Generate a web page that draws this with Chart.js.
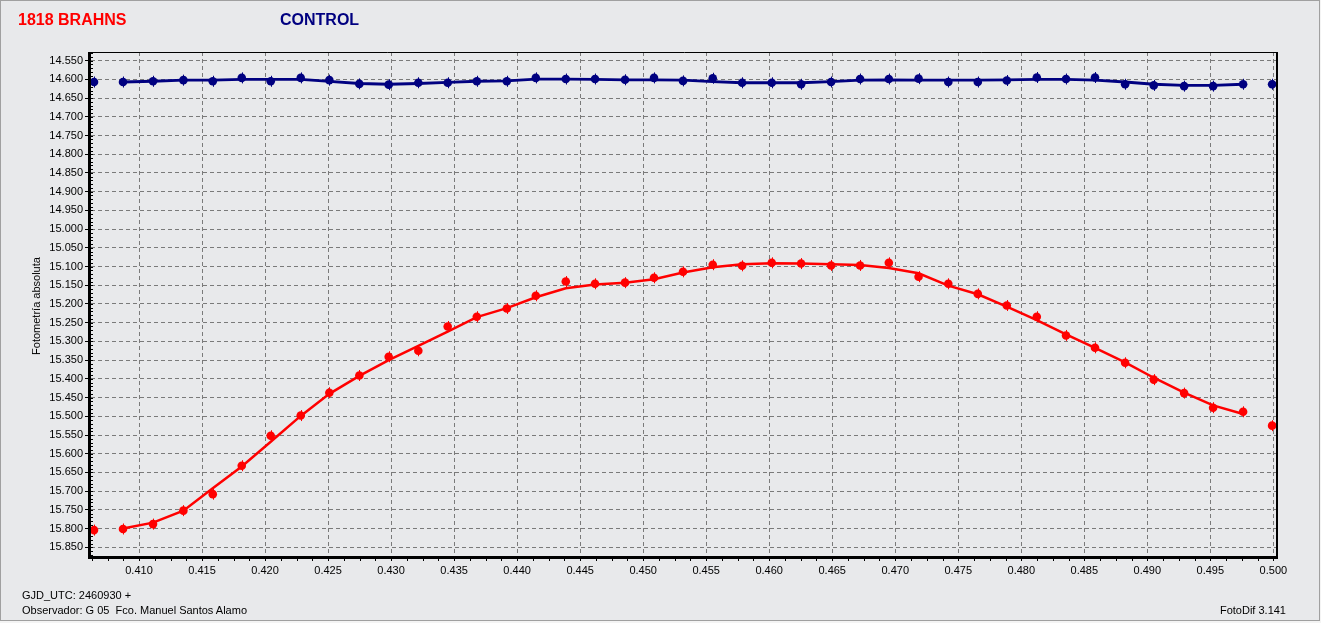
<!DOCTYPE html>
<html>
<head>
<meta charset="utf-8">
<script src="https://cdn.jsdelivr.net/npm/chart.js@4.4.1/dist/chart.umd.min.js"></script>
<style>
  html, body { margin:0; padding:0; background:#f4f4f4; width:1321px; height:623px; overflow:hidden; }
  #panel { position:absolute; left:0; top:0; width:1318px; height:619px; border:1px solid #a0a0a0; background:#e8e9eb; }
  canvas { position:absolute; left:0; top:0; }
  .t { position:absolute; white-space:nowrap; font-family:"Liberation Sans", Arial, sans-serif; line-height:1; }
  .title { font-size:16px; font-weight:bold; top:12px; }
  .small { font-size:11px; color:#000; }
</style>
</head>
<body>
<div id="panel"></div>
<canvas id="c" width="1321" height="623"></canvas>
<div class="t title" style="left:18px; color:#ff0000;">1818 BRAHNS</div>
<div class="t title" style="left:280px; color:#000080;">CONTROL</div>
<div class="t small" style="left:-63px; top:300px; width:200px; height:12px; text-align:center; transform:rotate(-90deg);">Fotometría absoluta</div>
<div class="t small" style="left:22px; top:590px;">GJD_UTC: 2460930 +</div>
<div class="t small" style="left:22px; top:605px;">Observador: G 05&nbsp; Fco. Manuel Santos Alamo</div>
<div class="t small" style="right:35px; top:605px;">FotoDif 3.141</div>
<script>
// ---- data ----
const xValues = [0.40643,0.40873,0.41111,0.41352,0.41585,0.41815,0.42045,0.42283,0.42510,0.42748,
                 0.42981,0.43216,0.43449,0.43680,0.43918,0.44148,0.44386,0.44618,0.44856,0.45086,
                 0.45316,0.45552,0.45785,0.46020,0.46253,0.46491,0.46721,0.46949,0.47185,0.47421,
                 0.47655,0.47885,0.48123,0.48355,0.48585,0.48824,0.49051,0.49292,0.49522,0.49760,0.49990];

const brahnsMag = [15.804,15.801,15.788,15.752,15.708,15.632,15.552,15.498,15.437,15.391,
                   15.341,15.325,15.260,15.234,15.212,15.178,15.140,15.146,15.143,15.130,
                   15.114,15.095,15.098,15.090,15.092,15.097,15.097,15.090,15.127,15.146,
                   15.173,15.204,15.234,15.284,15.317,15.357,15.402,15.438,15.477,15.488,15.525];

// fitted curve values read at points 2..40
const brahnsFit = [15.800,15.784,15.752,15.692,15.634,15.568,15.499,15.440,15.392,
                   15.350,15.312,15.274,15.235,15.211,15.182,15.158,15.148,15.143,15.134,
                   15.116,15.102,15.094,15.091,15.092,15.094,15.096,15.104,15.118,15.151,
                   15.174,15.207,15.243,15.281,15.317,15.356,15.397,15.437,15.471,15.494];

const controlMag = [14.607,14.607,14.605,14.602,14.605,14.596,14.605,14.596,14.602,14.612,
                    14.614,14.609,14.609,14.605,14.605,14.596,14.599,14.599,14.601,14.596,
                    14.604,14.597,14.609,14.609,14.613,14.607,14.599,14.599,14.598,14.607,
                    14.607,14.603,14.595,14.599,14.595,14.613,14.616,14.618,14.618,14.613,14.613];

const controlFit = [14.607,14.605,14.602,14.602,14.600,14.600,14.600,14.605,14.611,
                    14.613,14.611,14.608,14.605,14.604,14.599,14.599,14.600,14.601,14.601,
                    14.602,14.606,14.609,14.609,14.609,14.606,14.602,14.601,14.602,14.602,
                    14.602,14.601,14.600,14.600,14.602,14.607,14.613,14.616,14.616,14.613];

const xTickValues = [0.410,0.415,0.420,0.425,0.430,0.435,0.440,0.445,0.450,0.455,
                     0.460,0.465,0.470,0.475,0.480,0.485,0.490,0.495,0.500];
const yTickValues = [14.550,14.600,14.650,14.700,14.750,14.800,14.850,14.900,14.950,15.000,
                     15.050,15.100,15.150,15.200,15.250,15.300,15.350,15.400,15.450,15.500,
                     15.550,15.600,15.650,15.700,15.750,15.800,15.850];

const fitX = xValues.slice(1, 40);
const pts = (xs, ys) => xs.map((x, i) => ({x: x, y: ys[i]}));

const framePlugin = {
  id: 'frame',
  beforeDatasetsDraw(chart) {
    const {ctx, chartArea: {left, top, right, bottom}} = chart;
    const xs = chart.scales.x, ys = chart.scales.y;
    ctx.save();
    ctx.strokeStyle = '#000';
    ctx.lineWidth = 1;
    ctx.beginPath();
    for (let k = 0; ; k++) {
      const v = 0.40625 + k * 0.00125;
      if (v > 0.5001) break;
      const px = Math.round(xs.getPixelForValue(v)) + 0.5;
      ctx.moveTo(px, bottom); ctx.lineTo(px, bottom + 5);
    }
    for (let k = 0; ; k++) {
      const v = 14.53 + k * 0.01;
      if (v > 15.8732) break;
      const py = Math.round(ys.getPixelForValue(v)) + 0.5;
      ctx.moveTo(left, py); ctx.lineTo(left + 2, py);
    }
    ctx.stroke();
    ctx.lineWidth = 1;
    ctx.beginPath(); ctx.moveTo(left, top + 0.5); ctx.lineTo(right + 2, top + 0.5); ctx.stroke();
    ctx.lineWidth = 2;
    ctx.beginPath(); ctx.moveTo(right + 1, top); ctx.lineTo(right + 1, bottom + 3); ctx.stroke();
    ctx.lineWidth = 3;
    ctx.beginPath(); ctx.moveTo(left - 1.5, top); ctx.lineTo(left - 1.5, bottom + 3); ctx.stroke();
    ctx.beginPath(); ctx.moveTo(left - 3, bottom + 1.5); ctx.lineTo(right + 2, bottom + 1.5); ctx.stroke();
    ctx.restore();
  },
  afterDatasetsDraw(chart) {
    // small vertical error-bar stubs on each marker
    const ctx = chart.ctx;
    ctx.save();
    ctx.lineWidth = 1;
    [0, 1].forEach(di => {
      const meta = chart.getDatasetMeta(di);
      ctx.strokeStyle = chart.data.datasets[di].backgroundColor;
      ctx.beginPath();
      meta.data.forEach(el => {
        const x = Math.round(el.x) + 0.5;
        ctx.moveTo(x, el.y - 5.5); ctx.lineTo(x, el.y + 5.5);
      });
      ctx.stroke();
    });
    ctx.restore();
  }
};

const tickFont = {family: '"Liberation Sans", Arial, sans-serif', size: 11};

new Chart(document.getElementById('c').getContext('2d'), {
  type: 'scatter',
  data: {
    datasets: [
      {label: '1818 BRAHNS', data: pts(xValues, brahnsMag), backgroundColor: '#ff0000', borderColor: '#ff0000',
       pointRadius: 4.3, pointHoverRadius: 4.3, borderWidth: 0, showLine: false},
      {label: 'CONTROL', data: pts(xValues, controlMag), backgroundColor: '#000080', borderColor: '#000080',
       pointRadius: 4.3, pointHoverRadius: 4.3, borderWidth: 0, showLine: false},
      {label: 'BRAHNS fit', data: pts(fitX, brahnsFit), borderColor: '#ff0000', backgroundColor: '#ff0000',
       borderWidth: 2.5, pointRadius: 0, showLine: true, tension: 0},
      {label: 'CONTROL fit', data: pts(fitX, controlFit), borderColor: '#000080', backgroundColor: '#000080',
       borderWidth: 2.8, pointRadius: 0, showLine: true, tension: 0}
    ]
  },
  options: {
    responsive: false,
    animation: false,
    devicePixelRatio: 1,
    layout: {padding: {left: 0, top: 52, right: 45, bottom: 37}},
    plugins: {legend: {display: false}, tooltip: {enabled: false}, title: {display: false}},
    scales: {
      x: {
        type: 'linear', min: 0.40619, max: 0.50021,
        afterBuildTicks: s => { s.ticks = xTickValues.map(v => ({value: v})); },
        afterFit: s => { s.height = 30; },
        ticks: {callback: v => v.toFixed(3), font: tickFont, color: '#000', padding: 3, maxRotation: 0, autoSkip: false},
        grid: {color: '#7a7a7a', lineWidth: 1, tickColor: '#000', tickLength: 5},
        border: {display: false, dash: [4, 3]}
      },
      y: {
        type: 'linear', reverse: true, min: 14.5268, max: 15.8732,
        afterBuildTicks: s => { s.ticks = yTickValues.map(v => ({value: v})); },
        afterFit: s => { s.width = 91; },
        ticks: {callback: v => v.toFixed(3), font: tickFont, color: '#000', padding: 2, autoSkip: false},
        grid: {color: '#7a7a7a', lineWidth: 1, tickColor: '#000', tickLength: 6},
        border: {display: false, dash: [4, 3]}
      }
    }
  },
  plugins: [framePlugin]
});
</script>
</body>
</html>
